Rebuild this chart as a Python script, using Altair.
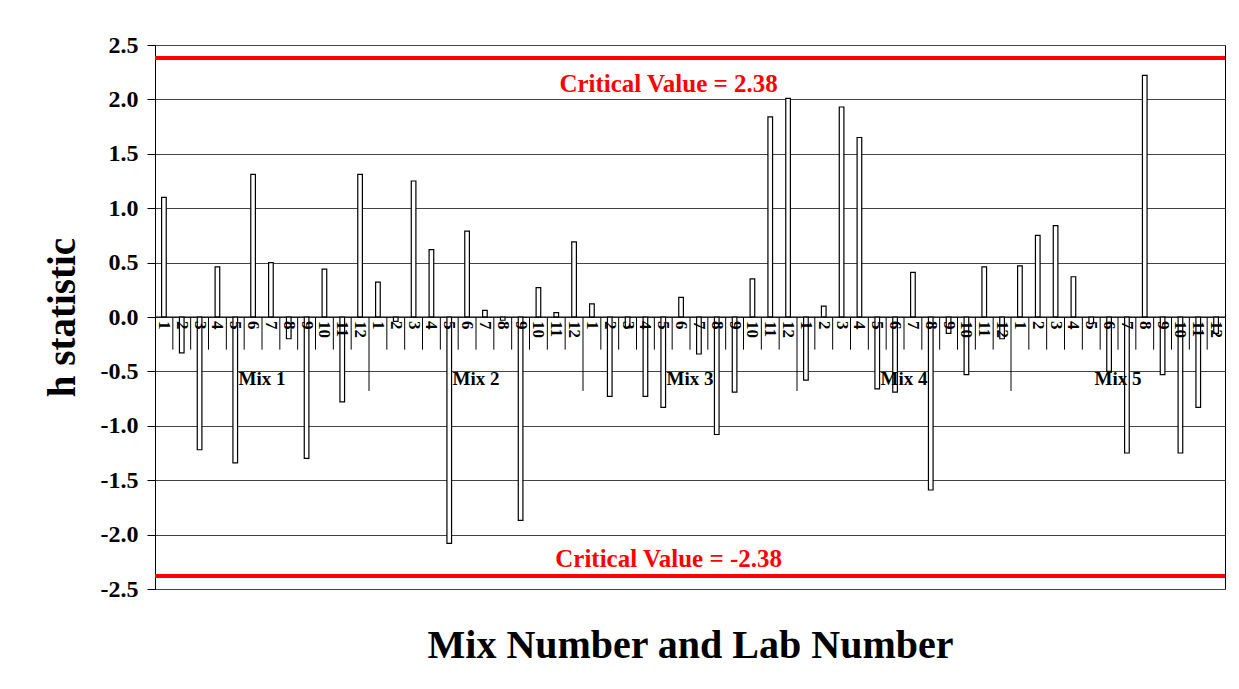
import altair as alt
import pandas as pd

# ---- data ----
mixes = ["Mix 1", "Mix 2", "Mix 3", "Mix 4", "Mix 5"]
labs = [str(i) for i in range(1, 13)]
mix1 = [1.10, -0.33, -1.22, 0.46, -1.34, 1.31, 0.50, -0.20, -1.30, 0.44, -0.78, 1.31]
mix2 = [0.32, -0.04, 1.25, 0.62, -2.08, 0.79, 0.06, -0.03, -1.87, 0.27, 0.04, 0.69]
mix3 = [0.12, -0.73, -0.10, -0.73, -0.83, 0.18, -0.34, -1.08, -0.69, 0.35, 1.84, 2.01]
mix4 = [-0.58, 0.10, 1.93, 1.65, -0.66, -0.69, 0.41, -1.59, -0.15, -0.53, 0.46, -0.20]
mix5 = [0.47, 0.75, 0.84, 0.37, -0.06, -0.50, -1.25, 2.22, -0.53, -1.25, -0.83, -0.15]
critical_values = [2.38, -2.38]
critical_labels = ["Critical Value = 2.38", "Critical Value = -2.38"]

FONT = "Liberation Serif"
series = [mix1, mix2, mix3, mix4, mix5]

rows = []
for m, vals in enumerate(series):
    for l, v in enumerate(vals):
        i = m * 12 + l
        rows.append({"mix": mixes[m], "lab": labs[l], "h": v,
                     "x0": i + 0.37, "x1": i + 0.63, "xc": i + 0.5, "zero": 0.0})
bars_df = pd.DataFrame(rows)

sep_rows = []
for k in range(1, 60):
    sep_rows.append({"xs": k, "top": 0.0, "bot": -0.68 if k % 12 == 0 else -0.30})
sep_df = pd.DataFrame(sep_rows)

mix_df = pd.DataFrame({"mix": mixes, "xm": [m * 12 + 6 for m in range(5)], "ym": [-0.57] * 5})
crit_df = pd.DataFrame({"cv": critical_values, "label": critical_labels,
                        "ty": [2.14, -2.22], "tx": [28.8, 28.8]})
zero_df = pd.DataFrame({"z": [0.0]})

xscale = alt.Scale(domain=[0, 60], nice=False, zero=False)
yscale = alt.Scale(domain=[-2.5, 2.5], nice=False)

xaxis = alt.Axis(labels=False, ticks=False, grid=False, domain=False,
                 title="Mix Number and Lab Number", titleFont=FONT, titleFontSize=40,
                 titleFontWeight="bold", titleColor="black", titlePadding=36)
yaxis = alt.Axis(values=[-2.5, -2.0, -1.5, -1.0, -0.5, 0.0, 0.5, 1.0, 1.5, 2.0, 2.5],
                 labelExpr="replace(format(datum.value, '.1f'), '\u2212', '-')",
                 labelFont=FONT, labelFontSize=24, labelFontWeight="bold", labelColor="black",
                 labelPadding=9, tickSize=8, tickColor="black", domainColor="black",
                 grid=True, gridColor="#444444", gridWidth=1,
                 title="h statistic", titleFont=FONT, titleFontSize=39, titleFontWeight="bold",
                 titleColor="black", titlePadding=18)

bars = alt.Chart(bars_df).mark_bar(fill="white", stroke="black", strokeWidth=1.2).encode(
    x=alt.X("x0:Q", scale=xscale, axis=xaxis),
    x2="x1:Q",
    y=alt.Y("h:Q", scale=yscale, axis=yaxis),
    y2="zero:Q",
)

zero_line = alt.Chart(zero_df).mark_rule(color="black", strokeWidth=1).encode(
    y=alt.Y("z:Q", scale=yscale)
)

seps = alt.Chart(sep_df).mark_rule(color="black", strokeWidth=1).encode(
    x=alt.X("xs:Q", scale=xscale), y=alt.Y("top:Q", scale=yscale), y2="bot:Q"
)

lab_text = alt.Chart(bars_df).mark_text(angle=90, align="left", baseline="middle", dx=4,
                                        font=FONT, fontSize=17, fontWeight="bold",
                                        color="black").encode(
    x=alt.X("xc:Q", scale=xscale), y=alt.Y("zero:Q", scale=yscale), text="lab:N"
)

mix_text = alt.Chart(mix_df).mark_text(font=FONT, fontSize=19, fontWeight="bold",
                                       color="black", baseline="middle").encode(
    x=alt.X("xm:Q", scale=xscale), y=alt.Y("ym:Q", scale=yscale), text="mix:N"
)

crit_lines = alt.Chart(crit_df).mark_rule(color="#ff0000", strokeWidth=4).encode(
    y=alt.Y("cv:Q", scale=yscale)
)
crit_text = alt.Chart(crit_df).mark_text(font=FONT, fontSize=25, fontWeight="bold",
                                         color="#ff0000", baseline="middle").encode(
    x=alt.X("tx:Q", scale=xscale), y=alt.Y("ty:Q", scale=yscale), text="label:N"
)

chart = alt.layer(bars, zero_line, seps, lab_text, mix_text, crit_lines, crit_text).properties(
    width=1070, height=544,
    autosize=alt.AutoSizeParams(type="none"),
    padding={"left": 147, "top": 37, "right": 6, "bottom": 90},
    background="white",
).configure_view(stroke="black", strokeWidth=1)

chart.save("out.html", embed_options={"renderer": "svg", "actions": False})
